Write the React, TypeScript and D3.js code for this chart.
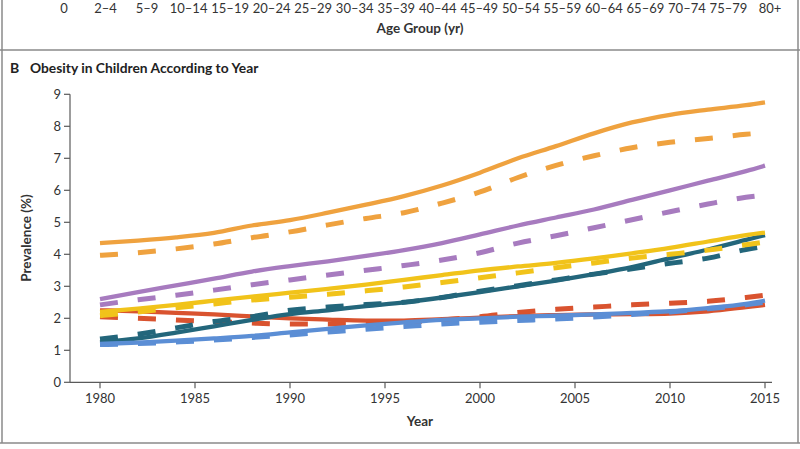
import React from "react";
import * as d3 from "d3";

// panel A leftovers at the top of the crop
const ageGroups = [
  "0", "2–4", "5–9", "10–14", "15–19", "20–24", "25–29", "30–34", "35–39",
  "40–44", "45–49", "50–54", "55–59", "60–64", "65–69", "70–74", "75–79", "80+",
];

const years = [
  1980, 1982, 1984, 1986, 1988, 1990, 1992, 1994, 1996, 1998,
  2000, 2002, 2004, 2006, 2008, 2010, 2012, 2014, 2015,
];
const yearTicks = [1980, 1985, 1990, 1995, 2000, 2005, 2010, 2015];
const prevalenceTicks = [0, 1, 2, 3, 4, 5, 6, 7, 8, 9];

const orangeSolid = [4.35, 4.43, 4.53, 4.67, 4.9, 5.07, 5.3, 5.55, 5.82, 6.15, 6.55, 7.0, 7.38, 7.78, 8.12, 8.36, 8.52, 8.66, 8.75];
const orangeDashed = [3.97, 4.05, 4.17, 4.32, 4.52, 4.7, 4.92, 5.12, 5.3, 5.6, 5.95, 6.4, 6.78, 7.08, 7.33, 7.5, 7.62, 7.75, 7.8];
const purpleSolid = [2.6, 2.82, 3.03, 3.24, 3.46, 3.63, 3.78, 3.95, 4.13, 4.35, 4.62, 4.9, 5.15, 5.4, 5.7, 6.0, 6.3, 6.6, 6.77];
const purpleDashed = [2.42, 2.58, 2.72, 2.88, 3.05, 3.2, 3.35, 3.5, 3.65, 3.82, 4.05, 4.35, 4.58, 4.83, 5.08, 5.33, 5.57, 5.78, 5.85];
const yellowSolid = [2.2, 2.3, 2.42, 2.55, 2.68, 2.8, 2.92, 3.05, 3.2, 3.35, 3.5, 3.62, 3.73, 3.87, 4.03, 4.2, 4.4, 4.6, 4.68];
const yellowDashed = [2.08, 2.2, 2.33, 2.45, 2.57, 2.66, 2.75, 2.86, 2.98, 3.12, 3.27, 3.42, 3.58, 3.73, 3.88, 4.0, 4.13, 4.3, 4.38];
const tealSolid = [1.25, 1.37, 1.55, 1.75, 1.95, 2.13, 2.25, 2.38, 2.5, 2.65, 2.82, 3.0, 3.18, 3.38, 3.6, 3.88, 4.15, 4.45, 4.6];
const tealDashed = [1.35, 1.5, 1.7, 1.9, 2.05, 2.25, 2.35, 2.43, 2.5, 2.65, 2.85, 3.02, 3.2, 3.38, 3.55, 3.72, 3.88, 4.15, 4.25];
const redSolid = [2.25, 2.22, 2.17, 2.12, 2.06, 2.0, 1.96, 1.93, 1.93, 1.97, 2.02, 2.07, 2.1, 2.12, 2.13, 2.15, 2.22, 2.35, 2.42];
const redDashed = [2.05, 2.0, 1.95, 1.9, 1.85, 1.82, 1.82, 1.84, 1.88, 1.95, 2.05, 2.18, 2.28, 2.35, 2.42, 2.47, 2.53, 2.65, 2.72];
const blueSolid = [1.2, 1.24, 1.3, 1.37, 1.45, 1.56, 1.67, 1.78, 1.87, 1.95, 2.0, 2.05, 2.08, 2.12, 2.17, 2.22, 2.32, 2.45, 2.55];
const blueDashed = [1.18, 1.21, 1.26, 1.32, 1.4, 1.48, 1.57, 1.66, 1.74, 1.82, 1.88, 1.93, 1.98, 2.04, 2.12, 2.2, 2.3, 2.42, 2.5];

const series = [
  { color: "#d9532f", solid: redSolid, dashed: redDashed },
  { color: "#23667b", solid: tealSolid, dashed: tealDashed },
  { color: "#f1c31a", solid: yellowSolid, dashed: yellowDashed },
  { color: "#a77bbf", solid: purpleSolid, dashed: purpleDashed },
  { color: "#efa23f", solid: orangeSolid, dashed: orangeDashed },
  { color: "#5b8ed5", solid: blueSolid, dashed: blueDashed },
];

const W = 800;
const H = 449;
const font = "Lato, 'Open Sans', sans-serif";
const axisColor = "#5a5a5a";

export default function App() {
  const x = d3.scaleLinear().domain([1980, 2015]).range([100, 765]);
  const y = d3.scaleLinear().domain([0, 9]).range([382.3, 94.3]);
  const ageX = d3.scalePoint<string>().domain(ageGroups).range([64, 770]);

  const line = (vals: number[]) =>
    d3
      .line<number>()
      .x((_, i) => x(years[i]))
      .y((d) => y(d))
      .curve(d3.curveMonotoneX)(vals) || "";

  return (
    <svg
      width={W}
      height={H}
      style={{ position: "absolute", left: 0, top: 0, background: "#fff" }}
      fontFamily={font}
    >
      {/* frame */}
      <line x1={2} x2={2} y1={0} y2={443} stroke="#8a8a8a" strokeWidth={1.5} />
      <line x1={798} x2={798} y1={0} y2={443} stroke="#8a8a8a" strokeWidth={1.5} />
      <line x1={0} x2={W} y1={50} y2={50} stroke="#8a8a8a" strokeWidth={1.5} />
      <line x1={0} x2={W} y1={443} y2={443} stroke="#8a8a8a" strokeWidth={1.5} />

      {/* remnants of panel A */}
      {ageGroups.map((g) => (
        <text key={g} x={ageX(g)} y={12.5} textAnchor="middle" fontSize={13} fill="#333">
          {g}
        </text>
      ))}
      <text x={420} y={33} textAnchor="middle" fontSize={13.5} fontWeight={700} fill="#333">
        Age Group (yr)
      </text>

      {/* panel B title */}
      <text x={10} y={73} fontSize={14} fontWeight={700} fill="#222">
        B
      </text>
      <text x={30} y={73} fontSize={13.8} fontWeight={700} fill="#222">
        Obesity in Children According to Year
      </text>

      {/* y axis */}
      <line x1={70} x2={70} y1={y(9)} y2={y(0)} stroke={axisColor} strokeWidth={1.2} />
      {prevalenceTicks.map((t) => (
        <g key={t} transform={`translate(0,${y(t)})`}>
          <line x1={64} x2={70} stroke={axisColor} strokeWidth={1.2} />
          <text x={61} dy="0.35em" textAnchor="end" fontSize={13} fill="#333">
            {t}
          </text>
        </g>
      ))}
      <text
        transform={`translate(31,238) rotate(-90)`}
        textAnchor="middle"
        fontSize={13.5}
        fontWeight={700}
        fill="#333"
      >
        Prevalence (%)
      </text>

      {/* x axis */}
      <line x1={70} x2={772} y1={y(0)} y2={y(0)} stroke={axisColor} strokeWidth={1.2} />
      {yearTicks.map((t) => (
        <g key={t} transform={`translate(${x(t)},0)`}>
          <line y1={y(0)} y2={y(0) + 6} stroke={axisColor} strokeWidth={1.2} />
          <text y={403} textAnchor="middle" fontSize={13} fill="#333">
            {t}
          </text>
        </g>
      ))}
      <text x={420} y={426} textAnchor="middle" fontSize={13.5} fontWeight={700} fill="#333">
        Year
      </text>

      {/* lines */}
      {series.map((s) => (
        <g key={s.color}>
          <path
            d={line(s.dashed)}
            fill="none"
            stroke={s.color}
            strokeWidth={5}
            strokeDasharray="18,20"
          />
          <path d={line(s.solid)} fill="none" stroke={s.color} strokeWidth={4.3} />
        </g>
      ))}
    </svg>
  );
}
